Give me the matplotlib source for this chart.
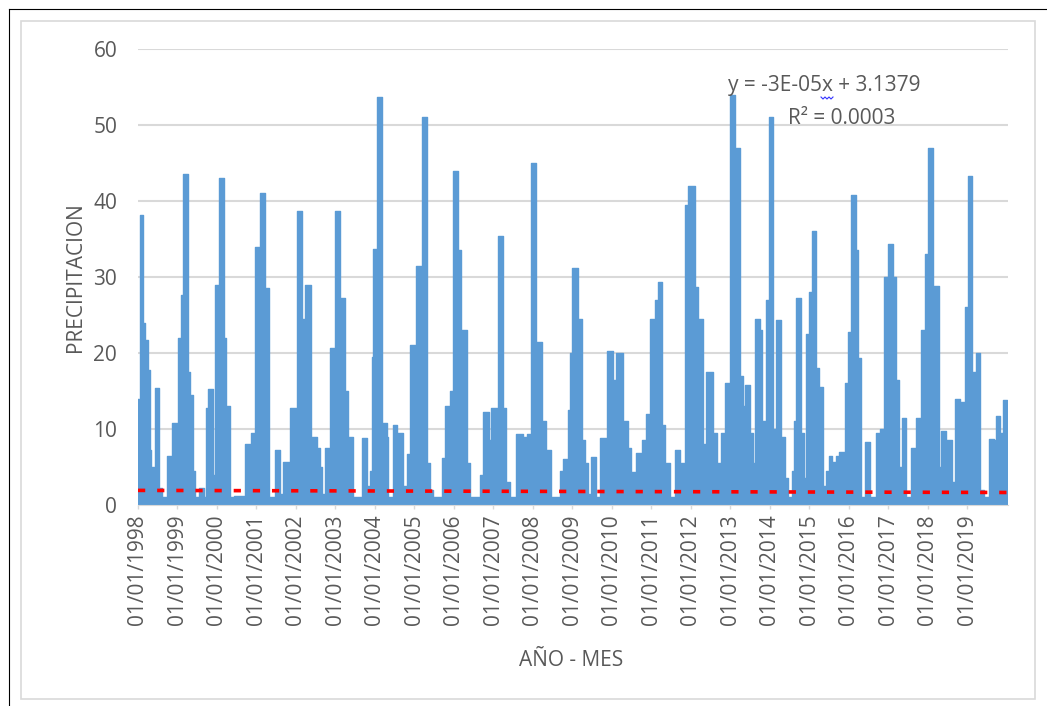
import numpy as np
import matplotlib
matplotlib.use('Agg')
from matplotlib import pyplot as plt
from matplotlib.lines import Line2D

plt.rcParams['font.family'] = ['Open Sans', 'DejaVu Sans']

# precipitation envelope (decimal year, value held until next point)
t_1998 = [1998.00, 1998.04, 1998.13, 1998.18, 1998.25, 1998.30, 1998.34, 1998.40, 1998.42, 1998.54,
          1998.61, 1998.74, 1998.87, 1999.01, 1999.08, 1999.13, 1999.26, 1999.31, 1999.39, 1999.45,
          1999.55, 1999.68, 1999.71, 1999.76, 1999.89, 1999.96, 2000.04, 2000.17, 2000.24, 2000.32,
          2000.42, 2000.71, 2000.86, 2000.97, 2001.09, 2001.21, 2001.31, 2001.47, 2001.60, 2001.66,
          2001.85, 2002.02, 2002.15, 2002.23, 2002.38, 2002.52, 2002.61, 2002.67, 2002.73, 2002.86,
          2002.98, 2003.11, 2003.24, 2003.32]
v_1998 = [14, 38.2, 24, 21.7, 17.7, 7.3, 5, 1.5, 15.4, 2.3,
          1, 6.4, 10.8, 22, 27.6, 43.5, 17.5, 14.5, 4.5, 1,
          2.2, 1, 12.8, 15.2, 4, 29, 43, 22, 13, 1,
          1.2, 8, 9.5, 34, 41, 28.5, 1, 7.3, 1.5, 5.7,
          12.8, 38.7, 24.5, 29, 9, 7.5, 5, 1.5, 7.5, 20.7,
          38.7, 27.3, 15, 9]

t_2003 = [2003.45, 2003.66, 2003.81, 2003.87, 2003.92, 2003.96, 2004.06, 2004.19, 2004.30, 2004.34,
          2004.45, 2004.55, 2004.72, 2004.80, 2004.89, 2005.05, 2005.18, 2005.31, 2005.39, 2005.48,
          2005.69, 2005.77, 2005.90, 2005.98, 2006.11, 2006.19, 2006.32, 2006.40, 2006.66, 2006.74,
          2006.89, 2006.95, 2007.12, 2007.25, 2007.33, 2007.41, 2007.57, 2007.75, 2007.84, 2007.96,
          2008.09, 2008.24, 2008.34, 2008.47, 2008.68, 2008.76, 2008.89, 2008.95]
v_2003 = [1, 8.8, 2.5, 4.5, 19.5, 33.7, 53.7, 10.8, 9, 1,
          10.5, 9.5, 2.5, 6.7, 21, 31.5, 51, 5.5, 2, 1,
          6.2, 13, 15, 44, 33.5, 23, 5.5, 1, 4, 12.3,
          8.5, 12.8, 35.4, 12.8, 3, 1, 9.3, 9, 9.3, 45,
          21.5, 11, 7.3, 1, 4.5, 6, 12.5, 20]

t_2009 = [2009.00, 2009.14, 2009.25, 2009.31, 2009.40, 2009.46, 2009.59, 2009.69, 2009.88, 2010.03,
          2010.11, 2010.28, 2010.41, 2010.49, 2010.62, 2010.75, 2010.87, 2010.96, 2011.08, 2011.17,
          2011.28, 2011.34, 2011.46, 2011.59, 2011.72, 2011.84, 2011.93, 2012.10, 2012.18, 2012.31,
          2012.39, 2012.56, 2012.65, 2012.77, 2012.86, 2012.98, 2013.11, 2013.24, 2013.32, 2013.36,
          2013.49, 2013.57, 2013.62, 2013.74, 2013.81, 2013.91, 2013.99, 2014.09, 2014.16, 2014.27,
          2014.38, 2014.46]
v_2009 = [31.2, 24.5, 8.5, 5.5, 1.5, 6.3, 1, 8.8, 20.3, 16.5,
          20, 11, 7.5, 4.3, 6.8, 8.5, 12, 24.5, 27, 29.3,
          10.5, 5.5, 1, 7.3, 5.5, 39.5, 42, 28.7, 24.5, 8,
          17.5, 9.5, 5.5, 9.5, 16, 54, 47, 17, 13, 15.8,
          9.5, 5.5, 24.5, 23, 11, 27, 51, 10, 24.3, 9,
          3.5, 1]

t_2014 = [2014.56, 2014.62, 2014.66, 2014.79, 2014.87, 2014.92, 2015.00, 2015.07, 2015.17, 2015.25,
          2015.34, 2015.42, 2015.49, 2015.57, 2015.68, 2015.76, 2015.89, 2015.97, 2016.06, 2016.17,
          2016.23, 2016.31, 2016.42, 2016.54, 2016.69, 2016.78, 2016.90, 2016.99, 2017.11, 2017.20,
          2017.28, 2017.34, 2017.45, 2017.58, 2017.69, 2017.83, 2017.92, 2018.00, 2018.14, 2018.28,
          2018.34, 2018.47, 2018.62, 2018.70, 2018.82, 2018.93, 2019.02, 2019.13, 2019.21, 2019.33,
          2019.41, 2019.56, 2019.67, 2019.73, 2019.82, 2019.90, 2020.00, 2020.03]
v_2014 = [4.5, 11, 27.3, 9.5, 3.5, 22.5, 28, 36, 18, 15.5,
          2.5, 4.5, 6.5, 5.7, 6.5, 7, 16, 22.8, 40.8, 33.5,
          19.3, 1, 8.3, 1, 9.5, 10, 30, 34.3, 30, 16.5,
          5, 11.5, 1, 7.5, 11.5, 23, 33, 47, 28.8, 5,
          9.7, 8.5, 3, 14, 13.5, 26, 43.3, 17.5, 20, 2,
          1, 8.7, 8.5, 11.7, 9.5, 13.8, 5, 5]

years = list(range(1998, 2020))
year_labels = ['01/01/%d' % y for y in years]
y_ticks = [0, 10, 20, 30, 40, 50, 60]

# linear trend as printed by excel (x = excel date serial)
trend_slope = -3.4e-05
trend_intercept = 3.1379
excel_serial_1998 = 35796

blue = '#5B9BD5'
grey_text = '#595959'
grid_grey = '#D9D9D9'

t = np.array(t_1998 + t_2003 + t_2009 + t_2014)
v = np.array(v_1998 + v_2003 + v_2009 + v_2014, dtype=float)

fig = plt.figure(figsize=(10.47, 7.06), dpi=100)
fig.patch.set_facecolor('white')
W, H = 1047.0, 706.0
ax = fig.add_axes([138 / W, 1 - 505 / H, (1008 - 138) / W, (505 - 49) / H])

ax.fill_between(t, v, 0, step='post', color=blue, linewidth=0, zorder=2)
ax.step(t, v, where='post', color=blue, lw=1.0, zorder=2)

# trend line
tx = np.array([1998.0, 2020.03])
serial = excel_serial_1998 + (tx - 1998.0) * 365.25
ax.plot(tx, trend_slope * serial + trend_intercept, color='#FF0000', lw=2.6,
        dashes=(2.0, 3.3), dash_capstyle='butt', zorder=3)

ax.set_xlim(1998.0, 2020.03)
ax.set_ylim(0, 60)
ax.set_yticks(y_ticks)
ax.set_xticks(years)
ax.set_xticklabels(year_labels, rotation=90)
ax.grid(axis='y', color=grid_grey, lw=1.5, zorder=0)
ax.set_axisbelow(True)
for s in ['top', 'right', 'left']:
    ax.spines[s].set_visible(False)
ax.spines['bottom'].set_color(grid_grey)
ax.tick_params(axis='y', length=0, pad=15, labelsize=15, labelcolor=grey_text)
ax.tick_params(axis='x', length=3, width=1, color=grid_grey, pad=4, labelsize=15, labelcolor=grey_text)

fig.text(75.5 / W, 1 - 277 / H, 'PRECIPITACION', rotation=90, ha='center', va='center',
         fontsize=15, color=grey_text)
fig.text(571 / W, 1 - 660 / H, 'AÑO - MES', ha='center', va='center', fontsize=15, color=grey_text)

fig.text(728 / W, 1 - 86 / H, 'y = -3E-05x + 3.1379', ha='left', va='center', fontsize=15, color=grey_text)
fig.text(788 / W, 1 - 118 / H, 'R² = 0.0003', ha='left', va='center', fontsize=15, color=grey_text)
# spell-check squiggle under the "x" of the equation
sq_x = np.array([821, 823, 825, 827, 829, 831, 833]) / W
sq_y = 1 - np.array([97, 99, 97, 99, 97, 99, 97]) / H
fig.add_artist(Line2D(sq_x, sq_y, color='#3333FF', lw=0.8, transform=fig.transFigure))

# chart area border and screenshot frame
fig.add_artist(plt.Rectangle((21 / W, 1 - 699 / H), (1035 - 21) / W, (699 - 21) / H,
                             fill=False, edgecolor=grid_grey, lw=1.2, transform=fig.transFigure))
fig.add_artist(Line2D([8.5 / W, 8.5 / W], [0, 1 - 9 / H], color='black', lw=0.8, transform=fig.transFigure))
fig.add_artist(Line2D([8.5 / W, 1], [1 - 9 / H, 1 - 9 / H], color='black', lw=0.8, transform=fig.transFigure))

fig.savefig('out.png', dpi=100)
